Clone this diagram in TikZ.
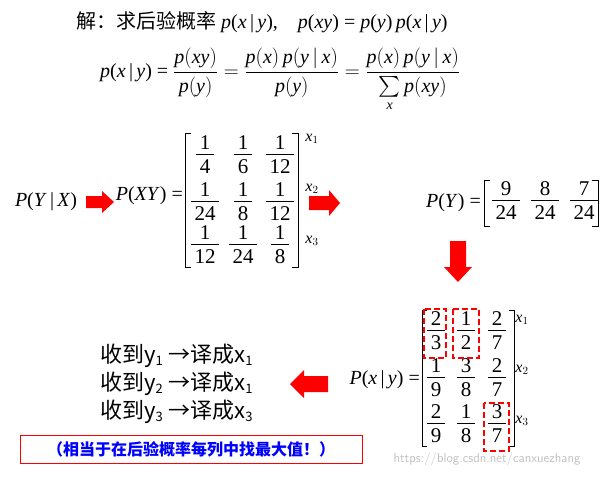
\documentclass[tikz,border=0pt]{standalone}
\usepackage{amsmath}
\usepackage{fontspec}
\setmainfont{Liberation Serif}
\newfontfamily\cjk{Noto Sans CJK SC}
\setlength{\arrayrulewidth}{0.8pt}
\newcommand{\fr}[2]{\begin{tabular}{@{\,}c@{\,}}#1\\[-3pt]\hline\rule{0pt}{19pt}#2\end{tabular}}
\begin{document}
\begin{tikzpicture}[x=1pt,y=-1pt,
  txt/.style={inner sep=0pt,font=\fontsize{20}{24}\selectfont},
  ent/.style={inner sep=0pt,font=\fontsize{21}{24}\selectfont},
  lab/.style={inner sep=0pt,font=\fontsize{16}{18}\itshape},
  brk/.style={line width=1pt},
  pick/.style={draw=red,dash pattern=on 6pt off 3pt,line width=1.8pt}]
\useasboundingbox (0,0) rectangle (613,477);
\node[txt,anchor=west] (l1) at (76,22) {{\cjk 解：求后验概率} \textit{p}(\textit{x}\,|\,\textit{y}),\quad \textit{p}(\textit{xy}) = \textit{p}(\textit{y})\,\textit{p}(\textit{x}\,|\,\textit{y})};
\node[txt,anchor=west] (l2) at (100,80) {\textit{p}(\textit{x}\,|\,\textit{y}) = $\dfrac{\textit{p}(\textit{xy})}{\textit{p}(\textit{y})} = \dfrac{\textit{p}(\textit{x})\,\textit{p}(\textit{y}\,|\,\textit{x})}{\textit{p}(\textit{y})} = \dfrac{\textit{p}(\textit{x})\,\textit{p}(\textit{y}\,|\,\textit{x})}{\sum\limits_{\textit{x}}\textit{p}(\textit{xy})}$};
% P(Y|X) -> P(XY)
\node[txt] (pyx) at (46,202) {\textit{P}(\textit{Y}\,|\,\textit{X})};
\coordinate (a1) at (86,202);
\fill[red] (a1) ++(0,-6) -- ++(16,0) -- ++(0,-5) -- ++(12,11) -- ++(-12,11) -- ++(0,-5) -- ++(-16,0) -- cycle;
\node[txt,anchor=east] (pxy) at (183,196) {\textit{P}(\textit{XY}) =};
\draw[brk] (191,133) -- (185,133) -- (185,267) -- (191,267);
\draw[brk] (292,133) -- (298,133) -- (298,267) -- (292,267);
\node[ent] (m11) at (205,157) {\fr{1}{4}}; \node[ent] (m12) at (243,157) {\fr{1}{6}}; \node[ent] (m13) at (280,157) {\fr{1}{12}};
\node[ent] (m21) at (205,204) {\fr{1}{24}}; \node[ent] (m22) at (243,204) {\fr{1}{8}}; \node[ent] (m23) at (280,204) {\fr{1}{12}};
\node[ent] (m31) at (205,247) {\fr{1}{12}}; \node[ent] (m32) at (243,247) {\fr{1}{24}}; \node[ent] (m33) at (280,247) {\fr{1}{8}};
\node[lab] (x1) at (312,139) {x$_1$}; \node[lab] (x2) at (312,189) {x$_2$}; \node[lab] (x3) at (312,241) {x$_3$};
\coordinate (a2) at (309,203);
\fill[red] (a2) ++(0,-7) -- ++(20,0) -- ++(0,-6) -- ++(11,13) -- ++(-11,13) -- ++(0,-6) -- ++(-20,0) -- cycle;
% P(Y)
\node[txt,anchor=east] (py) at (481,203) {\textit{P}(\textit{Y}) =};
\draw[brk] (490,180) -- (484,180) -- (484,226) -- (490,226);
\draw[brk] (592,180) -- (598,180) -- (598,226) -- (592,226);
\node[ent] (y1) at (506,203) {\fr{9}{24}}; \node[ent] (y2) at (545,203) {\fr{8}{24}}; \node[ent] (y3) at (584,203) {\fr{7}{24}};
\coordinate (a3) at (458,241);
\fill[red] (a3) ++(-8,0) -- ++(0,26) -- ++(-6,0) -- ++(14,15) -- ++(14,-15) -- ++(-6,0) -- ++(0,-26) -- cycle;
% P(x|y)
\node[txt,anchor=east] (pxgy) at (420,380) {\textit{P}(\textit{x}\,|\,\textit{y}) =};
\draw[brk] (427,310) -- (422,310) -- (422,446) -- (427,446);
\draw[brk] (509,310) -- (514,310) -- (514,446) -- (509,446);
\node[ent] (n11) at (436,333) {\fr{2}{3}}; \node[ent] (n12) at (466,333) {\fr{1}{2}}; \node[ent] (n13) at (497,333) {\fr{2}{7}};
\node[ent] (n21) at (436,380) {\fr{1}{9}}; \node[ent] (n22) at (466,380) {\fr{3}{8}}; \node[ent] (n23) at (497,380) {\fr{2}{7}};
\node[ent] (n31) at (436,426) {\fr{2}{9}}; \node[ent] (n32) at (466,426) {\fr{1}{8}}; \node[ent] (n33) at (497,426) {\fr{3}{7}};
\node[lab] (z1) at (522,320) {x$_1$}; \node[lab] (z2) at (522,370) {x$_2$}; \node[lab] (z3) at (522,421) {x$_3$};
\draw[pick] (424,309) rectangle (446,358);
\draw[pick] (453,309) rectangle (479,358);
\draw[pick] (484,403) rectangle (509,451);
\coordinate (a4) at (328,384);
\fill[red] (a4) ++(0,-8) -- ++(-24,0) -- ++(0,-6) -- ++(-14,14) -- ++(14,14) -- ++(0,-6) -- ++(24,0) -- cycle;
% result text
\node[inner sep=0pt,anchor=west,font=\cjk\fontsize{22}{28}\selectfont,align=left] (res) at (100,384)
 {收到y$_{\text{\cjk\fontsize{13}{13}\selectfont 1}}$ →译成x$_{\text{\cjk\fontsize{13}{13}\selectfont 1}}$\\
  收到y$_{\text{\cjk\fontsize{13}{13}\selectfont 2}}$ →译成x$_{\text{\cjk\fontsize{13}{13}\selectfont 1}}$\\
  收到y$_{\text{\cjk\fontsize{13}{13}\selectfont 3}}$ →译成x$_{\text{\cjk\fontsize{13}{13}\selectfont 3}}$};
\node[draw=red,line width=0.8pt,minimum width=342pt,minimum height=28pt,inner sep=0pt,text=blue,font=\cjk\bfseries\fontsize{16}{18}\selectfont] (note) at (191,449) {（相当于在后验概率每列中找最大值！）};
\node[inner sep=0pt,text=black!25,font=\fontsize{13}{14}\sffamily] (wm) at (487,459) {https://blog.csdn.net/canxuezhang};
\end{tikzpicture}
\end{document}
